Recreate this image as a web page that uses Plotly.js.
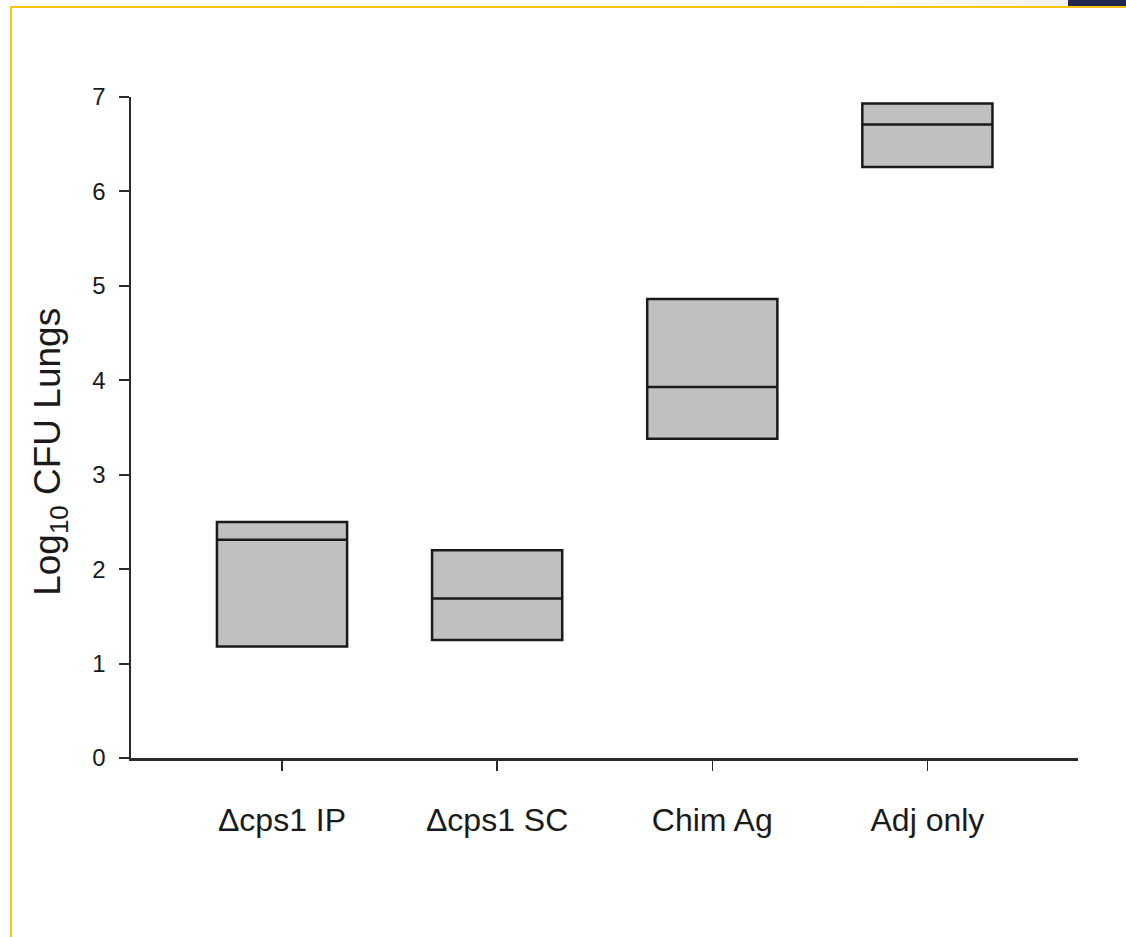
<!DOCTYPE html>
<html>
<head>
<meta charset="utf-8">
<script src="https://cdn.plot.ly/plotly-3.0.1.min.js"></script>
<style>
  html, body { margin: 0; padding: 0; background: #ffffff; }
  #wrap { position: relative; width: 1126px; height: 937px; overflow: hidden; }
  #chart { position: absolute; left: 0; top: 0; width: 1126px; height: 937px; }
  #topstrip { position: absolute; left: 0; top: 0; width: 1126px; height: 6px;
              background: linear-gradient(to right, #ffffff 0%, #ffffff 75%, #eeeeee 100%); z-index: 2; }
  #navy { position: absolute; left: 1068px; top: 0; width: 58px; height: 6px; background: #23264f; z-index: 3; }
  #ytop { position: absolute; left: 10px; top: 6px; width: 1116px; height: 2px; background: #ffc20e; z-index: 3; }
  #yleft { position: absolute; left: 10px; top: 6px; width: 2px; height: 931px; background: #ffc20e; z-index: 3; }
</style>
</head>
<body>
<div id="wrap">
  <div id="chart"></div>
  <div id="topstrip"></div>
  <div id="navy"></div>
  <div id="ytop"></div>
  <div id="yleft"></div>
</div>
<script>
// Data
var groups = ["\u0394cps1 IP", "\u0394cps1 SC", "Chim Ag", "Adj only"];
var q1Values = [1.18, 1.25, 3.38, 6.26];
var medianValues = [2.31, 1.69, 3.93, 6.71];
var q3Values = [2.50, 2.20, 4.86, 6.93];
var yTickValues = [0, 1, 2, 3, 4, 5, 6, 7];
var yTitle = "Log<sub>10</sub> CFU Lungs";

var trace = {
  type: "box",
  x: groups,
  q1: q1Values,
  median: medianValues,
  q3: q3Values,
  lowerfence: q1Values,
  upperfence: q3Values,
  width: 0.605,
  whiskerwidth: 0,
  fillcolor: "#c0c0c0",
  line: { color: "#1a1a1a", width: 2.5 },
  boxpoints: false,
  hoverinfo: "skip",
  showlegend: false
};

var layout = {
  width: 1126,
  height: 937,
  margin: { l: 131, r: 48, t: 97, b: 178.5, pad: 0 },
  paper_bgcolor: "#ffffff",
  plot_bgcolor: "#ffffff",
  font: { family: "Liberation Sans, Arial, sans-serif", color: "#222222" },
  xaxis: {
    type: "category",
    range: [-0.702, 3.70],
    showline: true,
    linecolor: "#2a2a2a",
    linewidth: 2.5,
    ticks: "outside",
    ticklen: 10,
    tickwidth: 1.5,
    tickcolor: "#2a2a2a",
    ticklabelstandoff: 22,
    tickfont: { size: 32, color: "#1a1a1a" },
    showgrid: false,
    zeroline: false,
    fixedrange: true
  },
  yaxis: {
    range: [0, 7],
    tickvals: yTickValues,
    ticktext: yTickValues.map(String),
    showline: true,
    linecolor: "#2a2a2a",
    linewidth: 2.5,
    ticks: "outside",
    ticklen: 10,
    tickwidth: 2,
    tickcolor: "#2a2a2a",
    ticklabelstandoff: 8,
    tickfont: { size: 24, color: "#1a1a1a" },
    showgrid: false,
    zeroline: false,
    fixedrange: true,
    automargin: false
  },
  annotations: [{
    text: yTitle,
    xref: "paper", yref: "paper",
    x: -0.0855, y: 0.4633,
    xanchor: "center", yanchor: "middle",
    textangle: -90,
    showarrow: false,
    font: { size: 37, color: "#1a1a1a", family: "Liberation Sans, Arial, sans-serif" }
  }]
};

Plotly.newPlot("chart", [trace], layout, { displayModeBar: false, staticPlot: true });
</script>
</body>
</html>
